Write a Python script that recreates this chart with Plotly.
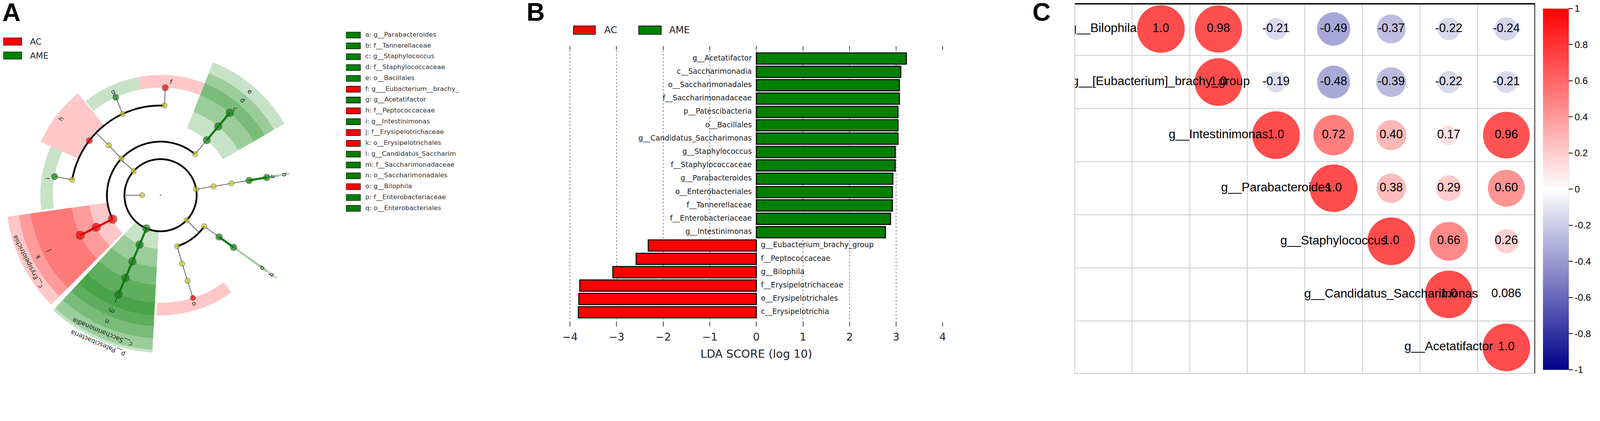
import numpy as np
import plotly.graph_objects as go

# The page is laid out 4096 css px wide and then scaled up to the 4564 px picture,
# and the body keeps its default 8 px margin; all geometry below is in picture px.
S = 4096 / 4564
FW, FH = 4080, 951


def px(x):
    return (x * S - 8) / FW


def py(y):
    return min(1.0, 1 - (y * S - 8) / FH)


def sz(v):
    return v * S


SANS = "DejaVu Sans"
ARIAL = "Liberation Sans"
RED, GREEN = "#ff0000", "#008000"
NODE_COLOR = {"AC": "#ee0000", "AME": "#0d7d0d", None: "#cccc22"}
EDGE_COLOR = {"AC": "#e00000", "AME": "#0d7d0d"}
SHADE = {"AC": "rgba(255,0,0,0.22)", "AME": "rgba(0,128,0,0.22)"}

# ------------------------------------------------------------ A: cladogram
LEVEL_R = [52, 103, 153, 205, 256, 307]      # kingdom .. genus rings
SHADE_OUT = [0, 474, 441, 408, 374, 343]     # outer edge of a clade's shading
LABEL_R = [0, 458, 424, 391, 358, 325]

NODE_NAME = [
    "k__Bacteria",
    "p__Bacteroidetes", "c__Bacteroidia", "o__Bacteroidales", "b", "a",
    "p__Firmicutes", "c__Bacilli", "e", "d", "c",
    "c__Clostridia", "o__Clostridiales",
    "f__Peptostreptococcaceae", "f", "f__Lachnospiraceae", "g", "h",
    "f__Ruminococcaceae", "i",
    "c__Erysipelotrichia", "k", "j",
    "p__Patescibacteria", "c__Saccharimonadia", "n", "m", "l",
    "p__Proteobacteria", "c__Deltaproteobacteria", "o__Desulfovibrionales",
    "f__Desulfovibrionaceae", "o",
    "c__Gammaproteobacteria", "q", "p",
]
NODE_PARENT = [
    None,
    "k__Bacteria", "p__Bacteroidetes", "c__Bacteroidia", "o__Bacteroidales", "b",
    "k__Bacteria", "p__Firmicutes", "c__Bacilli", "e", "d",
    "p__Firmicutes", "c__Clostridia",
    "o__Clostridiales", "f__Peptostreptococcaceae", "o__Clostridiales", "f__Lachnospiraceae", "o__Clostridiales",
    "o__Clostridiales", "f__Ruminococcaceae",
    "p__Firmicutes", "c__Erysipelotrichia", "k",
    "k__Bacteria", "p__Patescibacteria", "c__Saccharimonadia", "n", "m",
    "k__Bacteria", "p__Proteobacteria", "c__Deltaproteobacteria",
    "o__Desulfovibrionales", "f__Desulfovibrionaceae",
    "p__Proteobacteria", "c__Gammaproteobacteria", "q",
]
NODE_LEVEL = [0, 1, 2, 3, 4, 5, 1, 2, 3, 4, 5, 2, 3, 4, 5, 4, 5, 4, 4, 5,
              2, 3, 4, 1, 2, 3, 4, 5, 1, 2, 3, 4, 5, 2, 3, 4]
NODE_ANGLE = [180, 9.5, 9.5, 9.5, 9.5, 9.5, 138, 50, 50, 50, 50, 137, 136,
              87.5, 87.5, 115, 114.6, 142.5, 170, 170, 206.5, 206.5, 206.5,
              247, 247, 247, 247, 247, 316, 288, 287.5, 287.5, 287.5,
              324.5, 324.5, 324.5]
NODE_CLASS = [None, None, None, None, "AME", "AME", None, None, "AME", "AME", "AME",
              None, None, None, "AC", None, "AME", "AC", None, "AME",
              "AC", "AC", "AC", "AME", "AME", "AME", "AME", "AME",
              None, None, None, None, "AC", None, "AME", "AME"]
NODE_SIZE = [14, 15, 15, 15, 19, 19, 15, 15, 21, 22, 22, 15, 15, 15, 18, 15, 17,
             18, 15, 18, 25, 24, 24, 22, 22, 22, 22, 22, 15, 15, 15, 15, 15, 15,
             19, 19]

SHADE_NODE = ["e", "d", "c", "f", "g", "h", "i", "c__Erysipelotrichia", "k", "j",
              "p__Patescibacteria", "c__Saccharimonadia", "n", "m", "l", "o",
              "q", "p", "b", "a"]
SHADE_FROM = [30, 30, 30, 68.6, 100.7, 129, 156, 188, 188, 188,
              227, 227, 227, 227, 227, 268, 324, 324, 9, 9]
SHADE_TO = [68.5, 68.5, 68.5, 100.7, 128.6, 156, 187, 225, 225, 225,
            267, 267, 267, 267, 267, 306, 325, 325, 10, 10]

LEGEND_LETTER = list("abcdefghijklmnopq")
LEGEND_TAXON = ["g__Parabacteroides", "f__Tannerellaceae", "g__Staphylococcus",
                "f__Staphylococcaceae", "o__Bacillales", "g___Eubacterium__brachy_",
                "g__Acetatifactor", "f__Peptococcaceae", "g__Intestinimonas",
                "f__Erysipelotrichaceae", "o__Erysipelotrichales",
                "g__Candidatus_Saccharim", "f__Saccharimonadaceae",
                "o__Saccharimonadales", "g__Bilophila", "f__Enterobacteriaceae",
                "o__Enterobacteriales"]

# ------------------------------------------------------------ B: LDA scores
LDA_TAXA = ["g__Acetatifactor", "c__Saccharimonadia", "o__Saccharimonadales",
            "f__Saccharimonadaceae", "p__Patescibacteria", "o__Bacillales",
            "g__Candidatus_Saccharimonas", "g__Staphylococcus", "f__Staphylococcaceae",
            "g__Parabacteroides", "o__Enterobacteriales", "f__Tannerellaceae",
            "f__Enterobacteriaceae", "g__Intestinimonas", "g__Eubacterium_brachy_group",
            "f__Peptococcaceae", "g__Bilophila", "f__Erysipelotrichaceae",
            "o__Erysipelotrichales", "c__Erysipelotrichia"]
LDA_SCORE = [3.22, 3.10, 3.07, 3.07, 3.04, 3.04, 3.04, 2.98, 2.98, 2.93, 2.92,
             2.92, 2.88, 2.77, -2.32, -2.58, -3.08, -3.79, -3.81, -3.82]
LDA_TICKS = [-4, -3, -2, -1, 0, 1, 2, 3, 4]
LDA_GRID = [-4, -3, -2, -1, 0, 1, 2, 3]

# ------------------------------------------------------------ C: correlations
CORR_TAXA = ["g__Bilophila", "g__[Eubacterium]_brachy_group", "g__Intestinimonas",
             "g__Parabacteroides", "g__Staphylococcus", "g__Candidatus_Saccharimonas",
             "g__Acetatifactor"]
CORR_ROWS = [
    [1.0, 0.98, -0.21, -0.49, -0.37, -0.22, -0.24],
    [1.0, -0.19, -0.48, -0.39, -0.22, -0.21],
    [1.0, 0.72, 0.40, 0.17, 0.96],
    [1.0, 0.38, 0.29, 0.60],
    [1.0, 0.66, 0.26],
    [1.0, 0.086],
    [1.0],
]
CBAR_TICKS = [-1, -0.8, -0.6, -0.4, -0.2, 0, 0.2, 0.4, 0.6, 0.8, 1]

fig = go.Figure()

# ---------------- cladogram
idx = {n: i for i, n in enumerate(NODE_NAME)}
children = {n: [] for n in NODE_NAME}
for n, par in zip(NODE_NAME, NODE_PARENT):
    if par is not None:
        children[par].append(n)

for cls in ("AME", "AC"):
    rr, bb, tt, ww = [], [], [], []
    for n, a0, a1 in zip(SHADE_NODE, SHADE_FROM, SHADE_TO):
        i = idx[n]
        if NODE_CLASS[i] != cls:
            continue
        lv = NODE_LEVEL[i]
        bb.append(LEVEL_R[lv])
        rr.append(SHADE_OUT[lv] - LEVEL_R[lv])
        tt.append((a0 + a1) / 2)
        ww.append(a1 - a0)
    fig.add_trace(go.Barpolar(r=rr, base=bb, theta=tt, width=ww,
                              marker=dict(color=SHADE[cls], line=dict(width=0)),
                              hoverinfo="skip", showlegend=False))

arc_r, arc_t, arc_w = [], [], []
thin_r, thin_t = [], []
thick = {"AC": ([], []), "AME": ([], [])}
for n in NODE_NAME:
    kids = children[n]
    if not kids:
        continue
    i = idx[n]
    r0, t0 = LEVEL_R[NODE_LEVEL[i]], NODE_ANGLE[i]
    r1 = LEVEL_R[NODE_LEVEL[i] + 1]
    if len(kids) == 1:
        k = idx[kids[0]]
        cls = NODE_CLASS[i]
        if cls is not None and cls == NODE_CLASS[k]:
            thick[cls][0].extend([r0, r1, None])
            thick[cls][1].extend([t0, NODE_ANGLE[k], None])
        else:
            thin_r.extend([r0, r1, None])
            thin_t.extend([t0, NODE_ANGLE[k], None])
    else:
        thin_r.extend([r0, r1, None])
        thin_t.extend([t0, t0, None])
        angs = [NODE_ANGLE[idx[k]] for k in kids]
        arc_r.append(r1)
        if NODE_LEVEL[i] == 0:
            arc_t.append(180)
            arc_w.append(359.9)
        else:
            arc_t.append((min(angs) + max(angs)) / 2)
            arc_w.append(max(angs) - min(angs))

fig.add_trace(go.Barpolar(r=[5] * len(arc_r), base=[r - 2.5 for r in arc_r],
                          theta=arc_t, width=arc_w,
                          marker=dict(color="black", line=dict(width=0)),
                          hoverinfo="skip", showlegend=False))
fig.add_trace(go.Scatterpolar(r=thin_r, theta=thin_t, mode="lines", cliponaxis=False,
                              line=dict(color="#555555", width=sz(2)),
                              hoverinfo="skip", showlegend=False))
for cls in ("AME", "AC"):
    fig.add_trace(go.Scatterpolar(r=thick[cls][0], theta=thick[cls][1], mode="lines",
                                  cliponaxis=False,
                                  line=dict(color=EDGE_COLOR[cls], width=sz(6)),
                                  hoverinfo="skip", showlegend=False))
fig.add_trace(go.Scatterpolar(r=[0], theta=[0], mode="markers", cliponaxis=False,
                              marker=dict(size=sz(5), color="#999999"),
                              hoverinfo="skip", showlegend=False))
fig.add_trace(go.Scatterpolar(
    r=[LEVEL_R[l] for l in NODE_LEVEL], theta=NODE_ANGLE, mode="markers", cliponaxis=False,
    marker=dict(size=[sz(s) for s in NODE_SIZE], color=[NODE_COLOR[c] for c in NODE_CLASS],
                line=dict(color="#333333", width=sz(1.2))),
    hoverinfo="skip", showlegend=False))

# overlay axes used to place the rotated clade labels
fig.add_trace(go.Scatter(x=[0], y=[0], mode="markers", marker=dict(opacity=0),
                         xaxis="x4", yaxis="y4", hoverinfo="skip", showlegend=False))
annotations = []
for n, a0, a1 in zip(SHADE_NODE, SHADE_FROM, SHADE_TO):
    lv = NODE_LEVEL[idx[n]]
    th = (a0 + a1) / 2
    r = LABEL_R[lv]
    annotations.append(dict(
        x=r * np.cos(np.radians(th)), y=r * np.sin(np.radians(th)),
        xref="x4", yref="y4", text=n, showarrow=False, textangle=90 - th,
        xanchor="center", yanchor="middle",
        font=dict(family=SANS, size=sz(18), color="#222222")))

# letter legend
for cls in ("AME", "AC"):
    sel = [i for i, L in enumerate(LEGEND_LETTER) if NODE_CLASS[idx[L]] == cls]
    fig.add_trace(go.Bar(x=[41] * len(sel), y=sel, base=0, orientation="h", width=0.55,
                         marker=dict(color=GREEN if cls == "AME" else RED,
                                     line=dict(color="black", width=sz(1.5))),
                         xaxis="x3", yaxis="y3", hoverinfo="skip", showlegend=False))
fig.add_trace(go.Scatter(x=[55] * len(LEGEND_LETTER), y=list(range(len(LEGEND_LETTER))),
                         mode="text", textposition="middle right",
                         text=[f"{L}: {t}" for L, t in zip(LEGEND_LETTER, LEGEND_TAXON)],
                         textfont=dict(family=SANS, size=sz(18.5), color="#333333"),
                         xaxis="x3", yaxis="y3", hoverinfo="skip", showlegend=False))

# ---------------- LDA bar chart
for cls in ("AME", "AC"):
    sel = [i for i, v in enumerate(LDA_SCORE) if (v > 0) == (cls == "AME")]
    fig.add_trace(go.Bar(x=[LDA_SCORE[i] for i in sel], y=sel, orientation="h", width=0.84,
                         marker=dict(color=GREEN if cls == "AME" else RED,
                                     line=dict(color="black", width=sz(3))),
                         xaxis="x", yaxis="y", hoverinfo="skip", showlegend=False))
    fig.add_trace(go.Scatter(x=[0] * len(sel), y=sel, mode="markers+text",
                             text=[LDA_TAXA[i] for i in sel],
                             textposition="middle left" if cls == "AME" else "middle right",
                             marker=dict(size=sz(19), color="rgba(0,0,0,0)"),
                             textfont=dict(family=SANS, size=sz(21), color="#1a1a1a"),
                             xaxis="x", yaxis="y", hoverinfo="skip", showlegend=False))

# ---------------- correlation matrix
cx, cy, cv = [], [], []
for i, row in enumerate(CORR_ROWS):
    for k, v in enumerate(row):
        cx.append(i + k + 1)
        cy.append(i)
        cv.append(v)
cb_top, cb_bot = 24, 1055
fig.add_trace(go.Scatter(
    x=cx, y=cy, mode="markers+text", text=[f"{v:#.2g}" for v in cv],
    textposition="middle center",
    textfont=dict(family=ARIAL, size=sz(34), color="black"),
    marker=dict(size=[abs(v) for v in cv], sizemode="area", sizeref=2 / sz(136) ** 2,
                color=cv, cmin=-1, cmax=1,
                colorscale=[[0, "#00008b"], [0.5, "#ffffff"], [1, "#ff0000"]],
                line=dict(width=0),
                colorbar=dict(x=px(4401), xanchor="left", xpad=0,
                              y=py((cb_top + cb_bot) / 2), yanchor="middle", ypad=0,
                              len=sz(cb_bot - cb_top), lenmode="pixels", thickness=sz(73),
                              thicknessmode="pixels", outlinewidth=0,
                              ticks="outside", ticklen=sz(12), tickwidth=sz(2),
                              tickcolor="black", tickvals=CBAR_TICKS,
                              ticktext=[f"{t:g}" for t in CBAR_TICKS],
                              ticklabeloverflow="allow",
                              tickfont=dict(family=ARIAL, size=sz(27), color="black"))),
    xaxis="x2", yaxis="y2", hoverinfo="skip", showlegend=False))
fig.add_trace(go.Scatter(x=list(range(len(CORR_TAXA))), y=list(range(len(CORR_TAXA))),
                         mode="text", text=CORR_TAXA, textposition="middle center",
                         textfont=dict(family=ARIAL, size=sz(35), color="black"),
                         xaxis="x2", yaxis="y2", hoverinfo="skip", showlegend=False))

# panel C rows: picture rows 7 .. 1067; the page cannot draw above picture row 8/S
c_top, c_bot = 7, 1067
c_unit = (c_bot - c_top) / len(CORR_TAXA)
c_vis = max(c_top, 8 / S)
c_range_top = -0.5 + (c_vis - c_top) / c_unit

# ---------------- shapes / annotations
shapes = [
    # panel A legend
    dict(type="rect", xref="paper", yref="paper", x0=px(8), x1=px(62), y0=py(129), y1=py(108),
         fillcolor=RED, line=dict(color="#222", width=sz(1.5))),
    dict(type="rect", xref="paper", yref="paper", x0=px(8), x1=px(62), y0=py(169), y1=py(148),
         fillcolor=GREEN, line=dict(color="#222", width=sz(1.5))),
    # panel B legend
    dict(type="rect", xref="paper", yref="paper", x0=px(1636), x1=px(1698), y0=py(98), y1=py(74),
         fillcolor=RED, line=dict(color="black", width=sz(2))),
    dict(type="rect", xref="paper", yref="paper", x0=px(1822), x1=px(1886), y0=py(98), y1=py(74),
         fillcolor=GREEN, line=dict(color="black", width=sz(2))),
    # panel C frame
    dict(type="line", xref="x2", yref="paper", x0=-0.5, x1=7.5,
         y0=1 - sz(2) / FH, y1=1 - sz(2) / FH, line=dict(color="black", width=sz(4))),
    dict(type="line", xref="x2", yref="y2", x0=7.5, x1=7.5, y0=c_range_top, y1=6.5,
         line=dict(color="black", width=sz(4))),
    dict(type="line", xref="x2", yref="y2", x0=-0.5, x1=-0.5, y0=c_range_top, y1=6.5,
         line=dict(color="#bbbbbb", width=sz(3))),
    dict(type="line", xref="x2", yref="y2", x0=-0.5, x1=7.5, y0=6.5, y1=6.5,
         line=dict(color="#bbbbbb", width=sz(4))),
    dict(type="line", xref="paper", yref="paper", x0=px(4474), x1=px(4474),
         y0=py(cb_top), y1=py(cb_bot), line=dict(color="black", width=sz(2))),
]
# dashed LDA grid (none at +4, as in the LEfSe output)
for g in LDA_GRID:
    shapes.append(dict(type="line", xref="x", yref="y domain", x0=g, x1=g, y0=0, y1=1,
                       layer="below",
                       line=dict(color="#444", width=sz(1.5), dash="4px,5px")))

annotations += [
    dict(x=px(5), y=py(36), xref="paper", yref="paper", text="A", showarrow=False,
         xanchor="left", yanchor="middle",
         font=dict(family=ARIAL, size=sz(72), color="black", weight="bold")),
    dict(x=px(1500), y=py(34), xref="paper", yref="paper", text="B", showarrow=False,
         xanchor="left", yanchor="middle",
         font=dict(family=ARIAL, size=sz(72), color="black", weight="bold")),
    dict(x=px(2943), y=py(35), xref="paper", yref="paper", text="C", showarrow=False,
         xanchor="left", yanchor="middle",
         font=dict(family=ARIAL, size=sz(72), color="black", weight="bold")),
    dict(x=px(84), y=py(118.5), xref="paper", yref="paper", text="AC", showarrow=False,
         xanchor="left", yanchor="middle", font=dict(family=SANS, size=sz(24), color="#222")),
    dict(x=px(84), y=py(158.5), xref="paper", yref="paper", text="AME", showarrow=False,
         xanchor="left", yanchor="middle", font=dict(family=SANS, size=sz(24), color="#222")),
    dict(x=px(1721), y=py(86), xref="paper", yref="paper", text="AC", showarrow=False,
         xanchor="left", yanchor="middle", font=dict(family=SANS, size=sz(27), color="#222")),
    dict(x=px(1906), y=py(86), xref="paper", yref="paper", text="AME", showarrow=False,
         xanchor="left", yanchor="middle", font=dict(family=SANS, size=sz(27), color="#222")),
    dict(x=0, y=py(1010), xref="x", yref="paper", text="LDA SCORE (log 10)",
         showarrow=False, xanchor="center", yanchor="middle",
         font=dict(family=SANS, size=sz(32), color="#222")),
]

x0_ref, unit = 2157.5, 132.9               # LDA zero and one LDA unit, picture px
clad_cx, clad_cy, clad_r = 458, 557, 449   # cladogram centre / drawable radius
fig.update_layout(
    width=FW, height=FH, margin=dict(l=0, r=0, t=0, b=0),
    paper_bgcolor="white", plot_bgcolor="rgba(0,0,0,0)",
    showlegend=False, barmode="overlay",
    font=dict(family=SANS, color="#222"),
    polar=dict(domain=dict(x=[max(0, px(clad_cx - clad_r)), px(clad_cx + clad_r)],
                           y=[py(clad_cy + clad_r), py(clad_cy - clad_r)]),
               bgcolor="rgba(0,0,0,0)", barmode="overlay",
               radialaxis=dict(range=[0, clad_r], visible=False, showgrid=False),
               angularaxis=dict(visible=False, showgrid=False, rotation=0,
                                direction="counterclockwise")),
    xaxis=dict(domain=[px(x0_ref - 4.2 * unit), px(x0_ref + 4.2 * unit)], range=[-4.2, 4.2],
               tickvals=LDA_TICKS, ticks="inside", ticklen=sz(12), tickwidth=sz(2),
               tickcolor="#444", mirror="ticks", showline=False, zeroline=False,
               showgrid=False,
               tickfont=dict(family=SANS, size=sz(30), color="#222"),
               ticklabelstandoff=9, anchor="y"),
    yaxis=dict(domain=[py(931), py(131)], range=[20.05, -0.945], visible=False,
               anchor="x"),
    xaxis2=dict(domain=[px(3065), px(4379)], range=[-0.5, 7.5],
                tickvals=[0.5, 1.5, 2.5, 3.5, 4.5, 5.5, 6.5], showticklabels=False,
                ticks="", showgrid=True, gridcolor="#cccccc", gridwidth=sz(2),
                zeroline=False, showline=False, anchor="y2"),
    yaxis2=dict(domain=[py(c_bot), py(c_vis)], range=[6.5, c_range_top],
                tickvals=[0.5, 1.5, 2.5, 3.5, 4.5, 5.5], showticklabels=False,
                ticks="", showgrid=True, gridcolor="#cccccc", gridwidth=sz(2),
                zeroline=False, showline=False, anchor="x2"),
    xaxis3=dict(domain=[px(987), px(1360)], range=[0, 373], visible=False, anchor="y3"),
    yaxis3=dict(domain=[py(609.9), py(84.55)], range=[16.5, -0.5], visible=False,
                anchor="x3"),
    xaxis4=dict(domain=[max(0, px(clad_cx - clad_r)), px(clad_cx + clad_r)],
                range=[-clad_r, clad_r], visible=False, anchor="y4"),
    yaxis4=dict(domain=[py(clad_cy + clad_r), py(clad_cy - clad_r)],
                range=[-clad_r, clad_r], visible=False, anchor="x4"),
    shapes=shapes,
    annotations=annotations,
)

fig.write_html("out.html")
